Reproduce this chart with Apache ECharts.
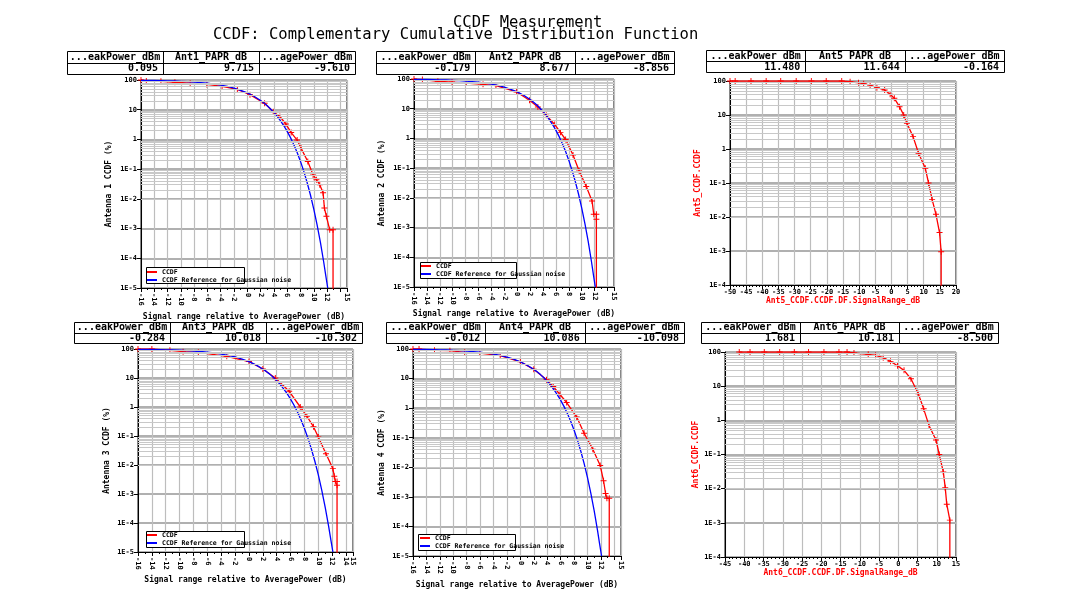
<!DOCTYPE html>
<html><head><meta charset="utf-8">
<script src="https://cdn.jsdelivr.net/npm/echarts@6/dist/echarts.min.js"></script>
<style>html,body{margin:0;padding:0;background:#fff}#c{width:1081px;height:611px}</style>
</head><body><div id="c"></div>
<script>
// ---------------- data ----------------
const titleLine1 = 'CCDF Measurement';
const titleLine2 = 'CCDF: Complementary Cumulative Distribution Function';

const statHeaders = ['...eakPower_dBm', '_PAPR_dB', '...agePower_dBm'];
const ant1Stats = ['0.095', '9.715', '-9.610'];
const ant2Stats = ['-0.179', '8.677', '-8.856'];
const ant5Stats = ['11.480', '11.644', '-0.164'];
const ant3Stats = ['-0.284', '10.018', '-10.302'];
const ant4Stats = ['-0.012', '10.086', '-10.098'];
const ant6Stats = ['1.681', '10.181', '-8.500'];

const legendNames = ['CCDF', 'CCDF Reference for Gaussian noise'];
const xNameRel = 'Signal range relative to AveragePower (dB)';

// Gaussian noise reference CCDF (%)
const gaussRef = [
  [-16, 97.5], [-15, 96.9], [-14, 96.1], [-13, 95.1], [-12, 93.9], [-11, 92.4], [-10, 90.5],
  [-9, 88.2], [-8, 85.3], [-7, 81.9], [-6, 77.8], [-5, 72.9], [-4, 67.1], [-3, 60.6], [-2, 53.3],
  [-1, 45.1], [0, 36.8], [1, 28.3], [2, 20.5], [2.5, 16.9], [3, 13.6], [3.5, 10.6], [4, 8.09],
  [4.5, 5.97], [5, 4.23], [5.5, 2.88], [6, 1.87], [6.5, 1.15], [7, 0.666], [7.5, 0.361],
  [8, 0.182], [8.5, 0.0843], [9, 0.0355], [9.5, 0.0135], [10, 0.00454], [10.5, 0.00134],
  [11, 0.000341], [11.5, 0.0000735], [11.8, 0.0000266], [12.1, 0.00001]
];

const ant1Ccdf = [
  [-16, 100], [-15.2, 93], [-13, 90], [-10.9, 84], [-8.6, 78], [-6.1, 71], [-3.8, 61], [-1.5, 48],
  [0.4, 32], [2.6, 16.4], [3.9, 8.6], [4.9, 5.9], [5.8, 3.3], [6.6, 1.7], [7.5, 0.95], [8.1, 0.5],
  [9.1, 0.18], [9.9, 0.064], [10.4, 0.044], [10.9, 0.03], [11.4, 0.016], [11.6, 0.0049],
  [11.9, 0.0026], [12.4, 0.00091], [12.9, 0.00091], [12.9, 0.000001]
];
const ant2Ccdf = [
  [-16, 100], [-14.7, 95.4], [-12.3, 84], [-10.1, 79], [-7.9, 73], [-5.3, 66], [-3.3, 60],
  [-0.1, 36.6], [1.9, 19.2], [3.2, 11.5], [4.5, 6], [5.8, 2.95], [6.7, 1.6], [7.5, 0.92],
  [8.65, 0.275], [9.6, 0.08], [10.7, 0.024], [11.6, 0.0079], [11.86, 0.0028], [12.27, 0.0028],
  [12.27, 0.0019], [12.27, 0.000001]
];
const ant5Ccdf = [
  [-50, 100], [-48.4, 100], [-43.5, 100], [-38.8, 100], [-34.3, 100], [-29.5, 100], [-24.8, 100],
  [-20.2, 100], [-15.4, 100], [-12.8, 95.6], [-10.2, 89.3], [-8.6, 83.5], [-6.6, 76.2], [-4.5, 63.7],
  [-2.1, 54.4], [-0.4, 40.5], [0.9, 31], [2.5, 17.6], [3.8, 10], [4.8, 5.7], [6.7, 2.31], [8.4, 0.746],
  [10.5, 0.27], [11.5, 0.1], [12.6, 0.033], [13.8, 0.012], [14.9, 0.0035], [15.4, 0.00095],
  [15.4, 0.00001]
];
const ant3Ccdf = [
  [-16, 100], [-14, 100], [-11.4, 90], [-9.5, 81], [-7.3, 77], [-3.2, 56], [0, 37], [2, 20.5],
  [3.8, 10], [5.8, 3.47], [7.4, 1.0], [8.35, 0.48], [9.3, 0.21], [10.0, 0.093], [11.1, 0.0245],
  [12.1, 0.0075], [12.3, 0.0041], [12.45, 0.0027], [12.7, 0.0027], [12.7, 0.002], [12.7, 0.000001]
];
const ant4Ccdf = [
  [-16, 100], [-15.1, 100], [-12.8, 90], [-10.5, 88], [-8.3, 77], [-6.05, 73], [-3, 60], [0, 37],
  [2, 20.5], [3.9, 9.1], [4.9, 5.4], [5.9, 2.9], [6.9, 1.55], [8.4, 0.5], [9.5, 0.142], [10.8, 0.041],
  [11.9, 0.0115], [12.4, 0.0035], [12.7, 0.0013], [12.9, 0.00089], [13.25, 0.00089], [13.25, 0.000001]
];
const ant6Ccdf = [
  [-41.3, 100], [-38.5, 100], [-34.8, 100], [-30.8, 100], [-27.0, 100], [-23.3, 100], [-19.3, 100],
  [-15.4, 100], [-13.3, 100], [-11.5, 93.5], [-7.8, 85.5], [-5.9, 79.8], [-3.9, 68.2], [-2.0, 53.2],
  [-0.2, 39.7], [1.5, 29], [3.3, 16.5], [5.2, 6.0], [6.6, 2.17], [8.0, 0.70], [9.8, 0.267],
  [10.65, 0.1], [11.7, 0.031], [12.2, 0.0107], [12.6, 0.0035], [13.4, 0.0012], [13.4, 0.00001]
];

// ---------------- layout / style ----------------
const FONT = '"DejaVu Sans Mono", "Liberation Mono", monospace';
const RED = '#ff0000', BLUE = '#0000ff';
const PLUS = 'path://M0,4.2H10V5.8H0Z M4.2,0H5.8V10H4.2Z';

const panels = [
  { ant: 'Ant1', grid: [141, 80, 206, 208], x: [-16, 15, 2, 2], y: [1e-5, 100], rot: -90,
    yName: 'Antenna 1 CCDF (%)', xName: xNameRel, nameColor: '#000', yGap: 28, xGap: 25,
    red: ant1Ccdf, blue: true, stats: ant1Stats, table: [67, 51, 288, 23], legend: [147, 268, 146, 267, 98, 16] },
  { ant: 'Ant2', grid: [414, 79, 200, 208], x: [-16, 15, 2, 2], y: [1e-5, 100], rot: -90,
    yName: 'Antenna 2 CCDF (%)', xName: xNameRel, nameColor: '#000', yGap: 28, xGap: 23,
    red: ant2Ccdf, blue: true, stats: ant2Stats, table: [376, 51, 298, 23], legend: [421, 262, 420, 262, 96, 16] },
  { ant: 'Ant5', grid: [730, 81, 226, 204], x: [-50, 20, 5, 5], y: [1e-4, 100], rot: 0,
    yName: 'Ant5_CCDF.CCDF', xName: 'Ant5_CCDF.CCDF.DF.SignalRange_dB', nameColor: RED, yGap: 28, xGap: 12,
    red: ant5Ccdf, blue: false, stats: ant5Stats, table: [706, 50, 298, 22], legend: null },
  { ant: 'Ant3', grid: [138, 349, 215, 203], x: [-16, 15, 2, 2], y: [1e-5, 100], rot: -90,
    yName: 'Antenna 3 CCDF (%)', xName: xNameRel, nameColor: '#000', yGap: 27, xGap: 24,
    red: ant3Ccdf, blue: true, stats: ant3Stats, table: [74, 322, 288, 21], legend: [147, 531, 146, 531, 98, 16] },
  { ant: 'Ant4', grid: [413, 349, 208, 207], x: [-16, 15, 2, 2], y: [1e-5, 100], rot: -90,
    yName: 'Antenna 4 CCDF (%)', xName: xNameRel, nameColor: '#000', yGap: 27, xGap: 25,
    red: ant4Ccdf, blue: true, stats: ant4Stats, table: [386, 322, 298, 21], legend: [420, 534, 418, 534, 97, 16] },
  { ant: 'Ant6', grid: [725, 352, 231, 205], x: [-45, 15, 5, 5], y: [1e-4, 100], rot: 0,
    yName: 'Ant6_CCDF.CCDF', xName: 'Ant6_CCDF.CCDF.DF.SignalRange_dB', nameColor: RED, yGap: 23, xGap: 12,
    red: ant6Ccdf, blue: false, stats: ant6Stats, table: [701, 322, 297, 21], legend: null }
];

function logLabel(v) {
  if (v >= 1) return String(Math.round(v));
  return '1E' + Math.round(Math.log10(v));
}

const grids = [], xAxes = [], yAxes = [], series = [], legends = [], graphics = [];

graphics.push({ type: 'text', x: 453, y: 23, style: { text: titleLine1, font: '15.5px ' + FONT, fill: '#000', align: 'left', verticalAlign: 'middle', textAlign: 'left', textVerticalAlign: 'middle' } });
graphics.push({ type: 'text', x: 213, y: 35, style: { text: titleLine2, font: '15.5px ' + FONT, fill: '#000', align: 'left', verticalAlign: 'middle', textAlign: 'left', textVerticalAlign: 'middle' } });

panels.forEach((p, i) => {
  grids.push({ left: p.grid[0], top: p.grid[1], width: p.grid[2], height: p.grid[3],
    show: true, borderColor: '#000', borderWidth: 1, backgroundColor: 'transparent',
    containLabel: false, outerBoundsMode: 'none' });
  xAxes.push({
    gridIndex: i, type: 'value', min: p.x[0], max: p.x[1], interval: p.x[2],
    axisLine: { show: true, onZero: false, lineStyle: { color: '#000', width: 1 } },
    axisTick: { show: true, length: 4, lineStyle: { color: '#000', width: 1 } },
    minorTick: { show: true, splitNumber: p.x[3], length: 2, lineStyle: { color: '#000', width: 1 } },
    axisLabel: { rotate: p.rot, fontSize: 7, fontFamily: FONT, fontWeight: 'bold', color: '#000', margin: p.rot ? 5 : 4,
      showMinLabel: true, showMaxLabel: true, hideOverlap: false },
    splitLine: { show: true, lineStyle: { color: '#bdbdbd', width: 1.2 } },
    minorSplitLine: { show: false },
    name: p.xName, nameLocation: 'middle', nameGap: p.xGap,
    nameTextStyle: { fontSize: 8, fontFamily: FONT, fontWeight: 'bold', color: p.nameColor }
  });
  yAxes.push({
    gridIndex: i, type: 'log', logBase: 10, min: p.y[0], max: p.y[1],
    axisLine: { show: true, onZero: false, lineStyle: { color: '#000', width: 1 } },
    axisTick: { show: true, length: 4, lineStyle: { color: '#000', width: 1 } },
    axisLabel: { formatter: logLabel, fontSize: 7, fontFamily: FONT, fontWeight: 'bold', color: '#000', margin: 4,
      showMinLabel: true, showMaxLabel: true },
    splitLine: { show: true, lineStyle: { color: '#b0b0b0', width: 2 } },
    name: p.yName, nameLocation: 'middle', nameGap: p.yGap,
    nameTextStyle: { fontSize: 8, fontFamily: FONT, fontWeight: 'bold', color: p.nameColor }
  });
  // log-decade minor grid lines (2..9 in each decade)
  const minor = [];
  const e0 = Math.round(Math.log10(p.y[0])), e1 = Math.round(Math.log10(p.y[1]));
  for (let e = e0; e < e1; e++) for (let m = 2; m <= 9; m++) minor.push({ yAxis: m * Math.pow(10, e) });
  series.push({ type: 'line', xAxisIndex: i, yAxisIndex: i, data: [], z: 1, silent: true,
    markLine: { silent: true, symbol: ['none', 'none'], label: { show: false }, animation: false,
      lineStyle: { color: '#c8c8c8', width: 1, type: 'solid' }, emphasis: { disabled: true }, data: minor } });

  const redData = p.red.map(d => d[1] < p.y[0] ? { value: d, symbol: 'none' } : d);
  series.push({ type: 'line', name: p.blue ? legendNames[0] : p.ant + '_CCDF.CCDF',
    xAxisIndex: i, yAxisIndex: i, data: redData, z: 2,
    symbol: PLUS, symbolSize: 6, showSymbol: true, showAllSymbol: true,
    lineStyle: { color: RED, width: 1.3 }, itemStyle: { color: RED }, color: RED, clip: true, animation: false });
  if (p.blue) {
    series.push({ type: 'line', name: legendNames[1], xAxisIndex: i, yAxisIndex: i, data: gaussRef, z: 3,
      symbol: 'none', lineStyle: { color: BLUE, width: 1.3 }, itemStyle: { color: BLUE }, color: BLUE,
      clip: true, animation: false });
  }
  if (p.legend) {
    const L = p.legend;
    legends.push({ left: L[0], top: L[1], orient: 'vertical', padding: 0, itemGap: 0,
      itemWidth: 10, itemHeight: 2, icon: 'rect', selectedMode: false, z: 6,
      textStyle: { fontSize: 6.5, fontFamily: FONT, fontWeight: 'bold', color: '#000', lineHeight: 8 },
      data: legendNames });
    graphics.push({ type: 'rect', z: 5, shape: { x: L[2] + 0.5, y: L[3] + 0.5, width: L[4], height: L[5] },
      style: { fill: '#fff', stroke: '#000', lineWidth: 1 } });
  }
  // stats table
  const [tx, ty, tw, th] = p.table;
  const cw = tw / 3, rh = th / 2;
  graphics.push({ type: 'rect', shape: { x: tx + 0.5, y: ty + 0.5, width: tw, height: th },
    style: { fill: '#fff', stroke: '#000', lineWidth: 1 } });
  graphics.push({ type: 'line', shape: { x1: tx, y1: Math.round(ty + rh) + 0.5, x2: tx + tw, y2: Math.round(ty + rh) + 0.5 },
    style: { stroke: '#000', lineWidth: 1 } });
  for (let c = 1; c < 3; c++) {
    const cx = Math.round(tx + cw * c) + 0.5;
    graphics.push({ type: 'line', shape: { x1: cx, y1: ty, x2: cx, y2: ty + th }, style: { stroke: '#000', lineWidth: 1 } });
  }
  const headers = [statHeaders[0], p.ant + statHeaders[1], statHeaders[2]];
  for (let c = 0; c < 3; c++) {
    graphics.push({ type: 'text', x: tx + cw * c + cw / 2, y: ty + rh / 2 + 0.5,
      style: { text: headers[c], font: 'bold 10px ' + FONT, fill: '#000', align: 'center', verticalAlign: 'middle',
        textAlign: 'center', textVerticalAlign: 'middle' } });
    graphics.push({ type: 'text', x: tx + cw * (c + 1) - 5, y: ty + rh * 1.5 + 0.5,
      style: { text: p.stats[c], font: 'bold 10px ' + FONT, fill: '#000', align: 'right', verticalAlign: 'middle',
        textAlign: 'right', textVerticalAlign: 'middle' } });
  }
});

const chart = echarts.init(document.getElementById('c'), null, { renderer: 'canvas' });
chart.setOption({
  animation: false,
  backgroundColor: '#fff',
  grid: grids, xAxis: xAxes, yAxis: yAxes, series: series, legend: legends,
  graphic: { elements: graphics }
});
</script></body></html>
